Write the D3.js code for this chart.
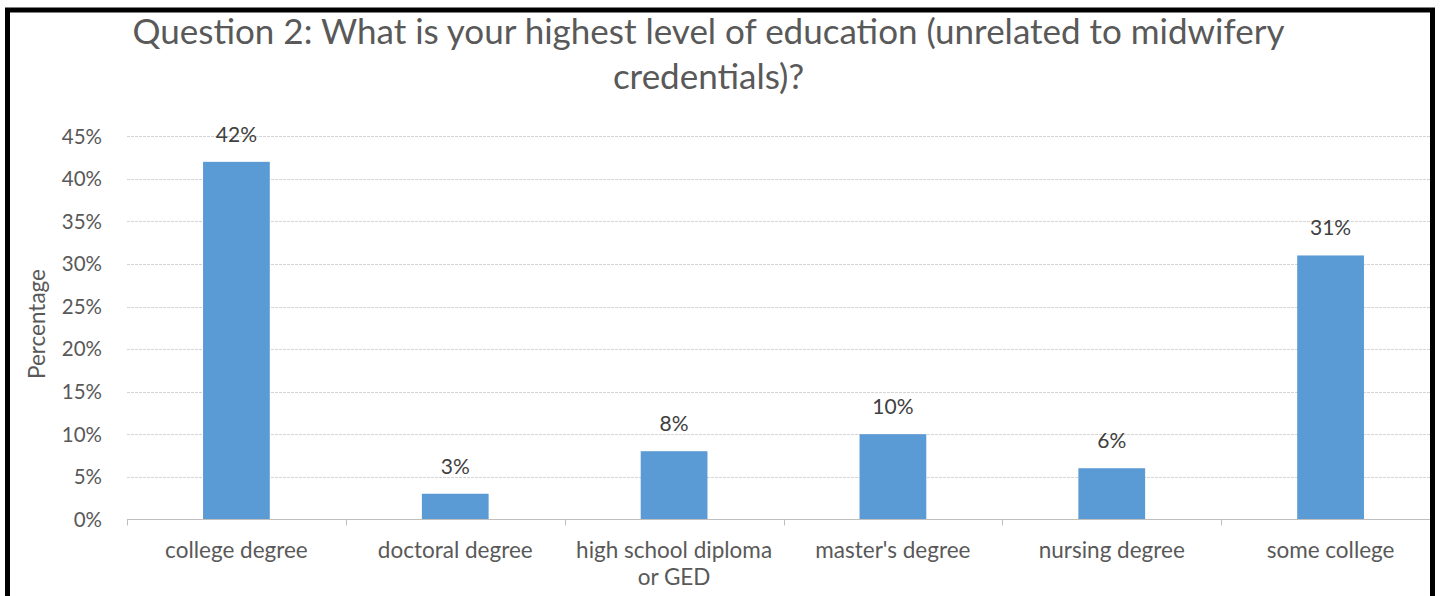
<!DOCTYPE html>
<html>
<head>
<meta charset="utf-8">
<script src="https://cdn.jsdelivr.net/npm/d3@7"></script>
<style>
  html, body { margin: 0; padding: 0; background: #fff; }
  svg { display: block; }
  text { font-family: Lato, "Open Sans", sans-serif; }
</style>
</head>
<body>
<svg id="chart" width="1440" height="596"></svg>
<script>
// Survey responses, share of respondents per education level
const categories = ["college degree", "doctoral degree", "high school diploma or GED", "master's degree", "nursing degree", "some college"];
const percentages = [42, 3, 8, 10, 6, 31];
const yTicks = [0, 5, 10, 15, 20, 25, 30, 35, 40, 45];
const titleLines = ["Question 2: What is your highest level of education (unrelated to midwifery", "credentials)?"];
const yAxisTitle = "Percentage";

const svg = d3.select("#chart");
const W = 1440, H = 596;
const plot = { left: 127, right: 1440, top: 136.3, bottom: 519.3 };

const x = d3.scaleBand()
  .domain(categories)
  .range([plot.left, plot.right])
  .paddingInner(0.695)
  .paddingOuter(0.3475);

const y = d3.scaleLinear()
  .domain([0, 45])
  .range([plot.bottom, plot.top]);

// gridlines
svg.append("g")
  .selectAll("line")
  .data(yTicks.filter(d => d > 0))
  .join("line")
  .attr("x1", plot.left).attr("x2", plot.right)
  .attr("y1", d => Math.round(y(d)) + 0.5).attr("y2", d => Math.round(y(d)) + 0.5)
  .attr("stroke", "#d4d4d4")
  .attr("stroke-dasharray", "3,1")
  .attr("stroke-width", 1);

// y tick labels
svg.append("g")
  .selectAll("text")
  .data(yTicks)
  .join("text")
  .attr("x", 102)
  .attr("y", d => y(d))
  .attr("dy", "0.36em")
  .attr("text-anchor", "end")
  .attr("fill", "#595959")
  .attr("font-size", 20.5)
  .text(d => d + "%");

// bars
svg.append("g")
  .selectAll("rect")
  .data(categories.map((c, i) => ({ c, v: percentages[i] })))
  .join("rect")
  .attr("x", d => x(d.c))
  .attr("width", x.bandwidth())
  .attr("y", d => y(d.v))
  .attr("height", d => y(0) - y(d.v))
  .attr("fill", "#5b9bd5");

// value labels
svg.append("g")
  .selectAll("text")
  .data(categories.map((c, i) => ({ c, v: percentages[i] })))
  .join("text")
  .attr("x", d => x(d.c) + x.bandwidth() / 2)
  .attr("y", d => y(d.v) - 20)
  .attr("text-anchor", "middle")
  .attr("fill", "#404040")
  .attr("font-size", 21)
  .text(d => d.v + "%");

// category axis
const xAxis = svg.append("g").attr("transform", `translate(0,${Math.round(plot.bottom) + 0.5})`);
xAxis.append("line")
  .attr("x1", plot.left).attr("x2", plot.right)
  .attr("stroke", "#bfbfbf");
const step = x.step();
xAxis.selectAll("line.tick")
  .data(d3.range(categories.length + 1))
  .join("line")
  .attr("class", "tick")
  .attr("x1", i => Math.round(plot.left + i * step) + 0.5)
  .attr("x2", i => Math.round(plot.left + i * step) + 0.5)
  .attr("y1", 0).attr("y2", 6)
  .attr("stroke", "#bfbfbf");

// category labels, wrapped to the band width
const catLabels = svg.append("g")
  .selectAll("text")
  .data(categories)
  .join("text")
  .attr("x", d => x(d) + x.bandwidth() / 2)
  .attr("y", 558)
  .attr("text-anchor", "middle")
  .attr("fill", "#595959")
  .attr("font-size", 22.5);

catLabels.each(function (d) {
  const t = d3.select(this);
  const words = d.split(" ");
  const maxW = step - 12;
  let line = [];
  let tspan = t.append("tspan").attr("x", x(d) + x.bandwidth() / 2).attr("dy", 0);
  words.forEach(w => {
    line.push(w);
    tspan.text(line.join(" "));
    if (tspan.node().getComputedTextLength() > maxW && line.length > 1) {
      line.pop();
      tspan.text(line.join(" "));
      line = [w];
      tspan = t.append("tspan").attr("x", x(d) + x.bandwidth() / 2).attr("dy", 27).text(w);
    }
  });
});

// y axis title
svg.append("text")
  .attr("transform", `translate(45,324) rotate(-90)`)
  .attr("text-anchor", "middle")
  .attr("fill", "#595959")
  .attr("font-size", 22.5)
  .text(yAxisTitle);

// chart title
svg.append("g")
  .selectAll("text")
  .data(titleLines)
  .join("text")
  .attr("x", 708.5)
  .attr("y", (d, i) => 44 + i * 45)
  .attr("text-anchor", "middle")
  .attr("fill", "#595959")
  .attr("font-size", 35)
  .text(d => d);

// frame around the chart
svg.append("rect")
  .attr("x", 7.5).attr("y", 10)
  .attr("width", 1425).attr("height", 640)
  .attr("fill", "none")
  .attr("stroke", "#000")
  .attr("stroke-width", 5);
svg.append("rect")
  .attr("x", 1435).attr("y", 0).attr("width", 5).attr("height", H)
  .attr("fill", "#fff");
</script>
</body>
</html>
